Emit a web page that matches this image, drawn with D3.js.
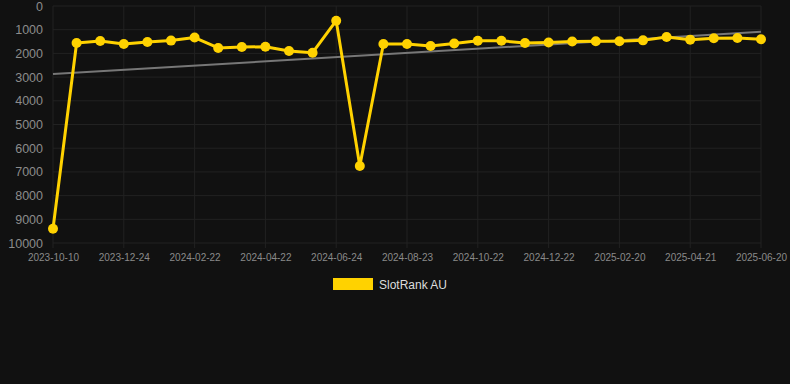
<!DOCTYPE html>
<html>
<head>
<meta charset="utf-8">
<script src="https://cdn.jsdelivr.net/npm/d3@7"></script>
<style>
  body { margin: 0; background: #111111; }
  svg { display: block; font-family: "Liberation Sans", Arial, sans-serif; }
</style>
</head>
<body>
<div id="chart"></div>
<script>
// dates for each point (only every third one is labelled on the axis)
const dates = [
    "2023-10-10", "2023-11-04", "2023-11-29", "2023-12-24", "2024-01-13", "2024-02-02",
    "2024-02-22", "2024-03-13", "2024-04-02", "2024-04-22", "2024-05-13", "2024-06-03",
    "2024-06-24", "2024-07-14", "2024-08-03", "2024-08-23", "2024-09-12", "2024-10-02",
    "2024-10-22", "2024-11-11", "2024-12-02", "2024-12-22", "2025-01-11", "2025-01-31",
    "2025-02-20", "2025-03-12", "2025-04-01", "2025-04-21", "2025-05-11", "2025-05-31",
    "2025-06-20"
];

// rank values (lower is better, axis is reversed)
const ranks = [
    9400, 1560, 1480, 1600, 1520, 1460,
    1330, 1770, 1730, 1720, 1900, 1970,
    620, 6750, 1600, 1600, 1690, 1580,
    1470, 1470, 1560, 1540, 1500, 1490,
    1490, 1450, 1310, 1420, 1360, 1350,
    1400
];

// trend line values at the first and last date
const trend = [2870, 1090];

const yTicks = [0, 1000, 2000, 3000, 4000, 5000, 6000, 7000, 8000, 9000, 10000];
const seriesName = "SlotRank AU";

const width = 790;
const height = 384;
const margin = { top: 6, right: 29, bottom: 141, left: 53 };

const svg = d3.select("#chart")
    .append("svg")
    .attr("width", width)
    .attr("height", height);

const xScale = d3.scalePoint()
    .domain(dates)
    .range([margin.left, width - margin.right]);

const yScale = d3.scaleLinear()
    .domain([0, 10000])
    .range([margin.top, height - margin.bottom]);

const labelDates = dates.filter((d, i) => i % 3 === 0);

//Grid lines
svg.append("g")
    .selectAll("line")
    .data(yTicks)
    .join("line")
    .attr("x1", margin.left)
    .attr("x2", width - margin.right)
    .attr("y1", d => yScale(d))
    .attr("y2", d => yScale(d))
    .attr("stroke", "#222")
    .attr("stroke-width", 1);

svg.append("g")
    .selectAll("line")
    .data(labelDates)
    .join("line")
    .attr("x1", d => xScale(d))
    .attr("x2", d => xScale(d))
    .attr("y1", margin.top)
    .attr("y2", height - margin.bottom + 5)
    .attr("stroke", "#222")
    .attr("stroke-width", 1);

//Axes
const yAxis = d3.axisLeft(yScale)
    .tickValues(yTicks)
    .tickFormat(d3.format("d"))
    .tickSize(0)
    .tickPadding(10);
svg.append("g")
    .attr("transform", `translate(${margin.left},0)`)
    .call(yAxis)
    .call(g => g.select(".domain").remove())
    .selectAll("text")
    .attr("fill", "#8c8c8c")
    .style("font-size", "12.5px");

const xAxis = d3.axisBottom(xScale).tickValues(labelDates).tickSize(0).tickPadding(11);
svg.append("g")
    .attr("transform", `translate(0,${height - margin.bottom})`)
    .call(xAxis)
    .call(g => g.select(".domain").remove())
    .selectAll("text")
    .attr("fill", "#8a8a8a")
    .style("font-size", "10px");

//Trend line
svg.append("line")
    .attr("x1", xScale(dates[0]))
    .attr("y1", yScale(trend[0]))
    .attr("x2", xScale(dates[dates.length - 1]))
    .attr("y2", yScale(trend[1]))
    .attr("stroke", "#777")
    .attr("stroke-width", 2);

//Series line and points
const line = d3.line()
    .x((d, i) => xScale(dates[i]))
    .y(d => yScale(d));

svg.append("path")
    .datum(ranks)
    .attr("d", line)
    .attr("fill", "none")
    .attr("stroke", "#FFD200")
    .attr("stroke-width", 3)
    .attr("stroke-linejoin", "round");

svg.selectAll(".pt")
    .data(ranks)
    .join("circle")
    .attr("class", "pt")
    .attr("cx", (d, i) => xScale(dates[i]))
    .attr("cy", d => yScale(d))
    .attr("r", 5)
    .attr("fill", "#FFD200");

//Legend
svg.append("rect")
    .attr("x", 333)
    .attr("y", 278)
    .attr("width", 40)
    .attr("height", 12)
    .attr("fill", "#FFD200");

svg.append("text")
    .attr("x", 379)
    .attr("y", 288.5)
    .attr("fill", "#dddddd")
    .style("font-size", "12px")
    .text(seriesName);
</script>
</body>
</html>
